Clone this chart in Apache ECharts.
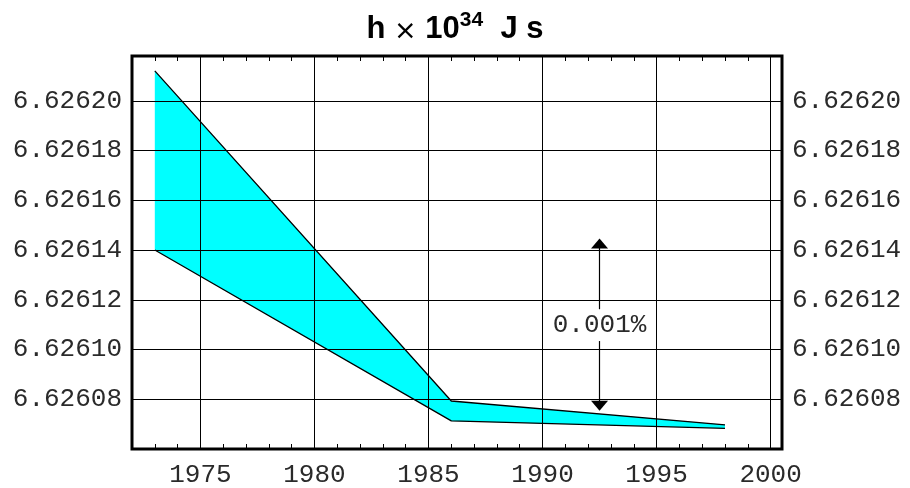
<!DOCTYPE html>
<html>
<head>
<meta charset="utf-8">
<script src="https://cdn.jsdelivr.net/npm/echarts@6/dist/echarts.min.js"></script>
<style>
html,body{margin:0;padding:0;background:#fff;}
#c{width:910px;height:488px;}
</style>
</head>
<body>
<div id="c"></div>
<script>
// ---- data ----
var years = [1973, 1986, 1998];
var upper = [6.626212, 6.6260793, 6.6260697];
var lower = [6.62614, 6.6260713, 6.6260683];
var xMin = 1972, xMax = 2000.5, xStep = 1;
var yMin = 6.62606, yMax = 6.626218, yStep = 0.00002;
var arrowYear = 1992.5;
var arrowTop = 6.6261426, arrowTopGap = 6.6261162;
var arrowBottom = 6.6260774, arrowBottomGap = 6.6261034;
var arrowLabelValue = 6.62611;
var arrowLabel = '0.001%';

var mono = 'Liberation Mono';
var chart = echarts.init(document.getElementById('c'));

var upperData = years.map(function (y, i) { return [y, upper[i]]; });
var lowerData = years.map(function (y, i) { return [y, lower[i]]; });

function yLabel(v) { return v.toFixed(5); }
function xLabel(v) { return (Math.abs(v % 5) < 1e-9) ? String(v) : ''; }

var yAxisBase = {
  type: 'value', min: yMin, max: yMax, interval: yStep, z: 5,
  axisLine: {show: false}, axisTick: {show: false},
  axisLabel: {formatter: yLabel, fontFamily: mono, fontSize: 26, color: '#2a2a2a', margin: 10,
              showMinLabel: false, showMaxLabel: false},
  splitLine: {show: true, lineStyle: {color: '#000', width: 1}}
};

var option = {
  animation: false,
  backgroundColor: '#fff',
  title: {
    left: 'center', top: 5,
    text: '{b|h }{x|×}{b| 10}{s|34}{b|  J s}',
    textStyle: {
      rich: {
        b: {fontFamily: 'Liberation Sans', fontWeight: 'bold', fontSize: 31, color: '#000', verticalAlign: 'bottom'},
        x: {fontFamily: 'DejaVu Sans', fontWeight: 'normal', fontSize: 27, color: '#000', verticalAlign: 'bottom', padding: [0, 0, 0, 0]},
        s: {fontFamily: 'Liberation Sans', fontWeight: 'bold', fontSize: 21, color: '#000', verticalAlign: 'top', padding: [0, 0, 14, 0]}
      }
    }
  },
  grid: {left: 132, right: 128, top: 56, bottom: 37, show: true, borderColor: '#000', borderWidth: 3, backgroundColor: '#fff'},
  xAxis: [{
    type: 'value', min: xMin, max: xMax, interval: xStep, z: 5, position: 'bottom',
    axisLine: {show: false},
    axisTick: {show: true, inside: true, length: 5, lineStyle: {color: '#000', width: 1}},
    axisLabel: {formatter: xLabel, fontFamily: mono, fontSize: 26, color: '#2a2a2a', margin: 13, showMaxLabel: false},
    splitLine: {show: true, lineStyle: {color: ['rgba(0,0,0,0)', 'rgba(0,0,0,0)', 'rgba(0,0,0,0)', '#000', 'rgba(0,0,0,0)'], width: 1}}
  }, {
    type: 'value', min: xMin, max: xMax, interval: xStep, z: 5, position: 'top',
    axisLine: {show: false},
    axisTick: {show: true, inside: true, length: 5, lineStyle: {color: '#000', width: 1}},
    axisLabel: {show: false}, splitLine: {show: false}
  }],
  yAxis: [
    Object.assign({}, yAxisBase, {position: 'left'}),
    Object.assign({}, yAxisBase, {position: 'right', splitLine: {show: false}})
  ],
  series: [{
    name: 'band', type: 'custom', z: 1, silent: true,
    data: [[years[0], upper[0]]],
    renderItem: function (params, api) {
      var pts = [];
      for (var i = 0; i < years.length; i++) pts.push(api.coord([years[i], upper[i]]));
      for (var j = years.length - 1; j >= 0; j--) pts.push(api.coord([years[j], lower[j]]));
      return {type: 'polygon', shape: {points: pts}, style: {fill: '#00ffff', stroke: null}};
    }
  }, {
    name: 'upper', type: 'line', data: upperData, showSymbol: false, z: 2,
    lineStyle: {color: '#000', width: 1.3},
    markLine: {
      silent: true, animation: false,
      symbol: ['none', 'triangle'], symbolSize: [17, 10],
      lineStyle: {color: '#000', width: 1.2, type: 'solid'},
      label: {show: false},
      data: [
        [{coord: [arrowYear, arrowTopGap]}, {coord: [arrowYear, arrowTop]}],
        [{coord: [arrowYear, arrowBottomGap]}, {coord: [arrowYear, arrowBottom]}]
      ]
    },
    markPoint: {
      silent: true, symbol: 'rect', symbolSize: 1, itemStyle: {color: 'rgba(0,0,0,0)'},
      label: {show: true, position: 'inside', formatter: arrowLabel, fontFamily: mono, fontSize: 26, color: '#2a2a2a'},
      data: [{coord: [arrowYear, arrowLabelValue]}]
    }
  }, {
    name: 'lower', type: 'line', data: lowerData, showSymbol: false, z: 2,
    lineStyle: {color: '#000', width: 1.3}
  }]
};
chart.setOption(option);
</script>
</body>
</html>
